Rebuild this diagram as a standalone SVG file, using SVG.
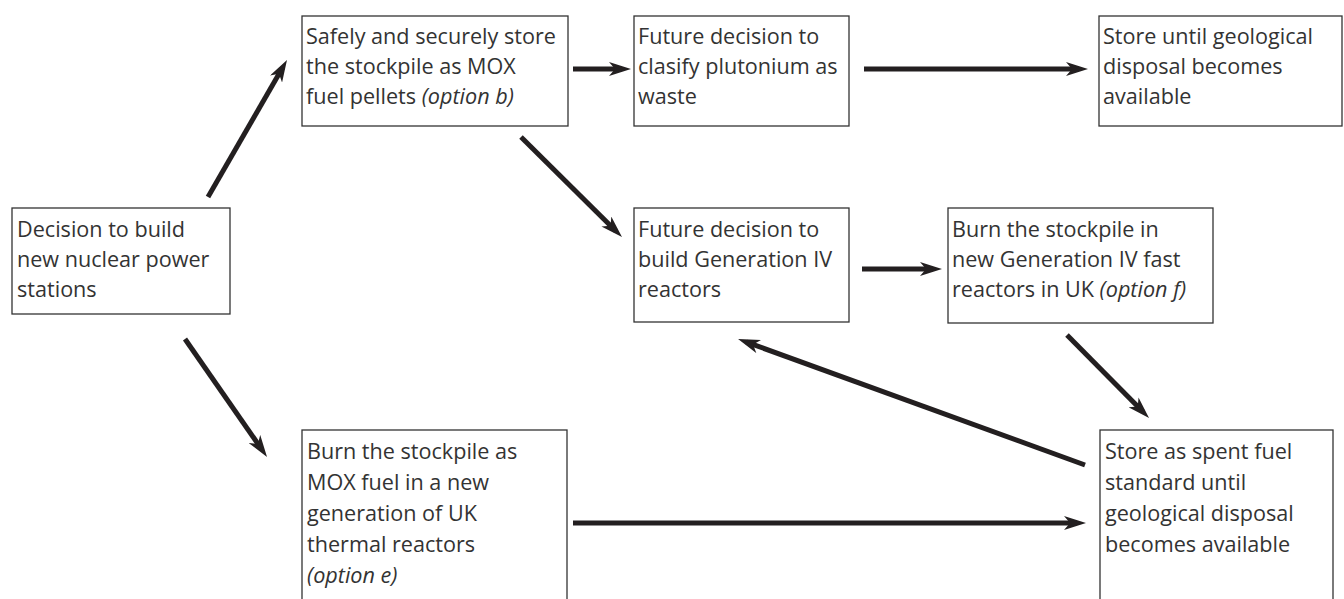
<svg xmlns="http://www.w3.org/2000/svg" width="1344" height="599" viewBox="0 0 1344 599">
<style>
.box{fill:#fff;stroke:#333;stroke-width:1.3}
.t{font-family:"Open Sans","Noto Sans","Liberation Sans",sans-serif;font-size:21.6px;fill:#333}
.i{font-style:italic}
.c{stroke:#231f20;stroke-width:5;fill:none;marker-end:url(#ah)}
</style>
<defs>
<marker id="ah" markerUnits="userSpaceOnUse" viewBox="0 -7 22 14" markerWidth="22" markerHeight="14" refX="13" refY="0" orient="auto">
<path d="M0,-7 L22,0 L0,7 L6,0 z" fill="#231f20"/>
</marker>
</defs>
<rect width="1344" height="599" fill="#fff"/>
<g id="connectors">
<line class="c" x1="208" y1="197" x2="282.5" y2="67.8"/>
<line class="c" x1="573" y1="69" x2="622" y2="69"/>
<line class="c" x1="864" y1="69" x2="1079" y2="69"/>
<line class="c" x1="521" y1="137" x2="615.6" y2="230.7"/>
<line class="c" x1="862" y1="269" x2="933" y2="269"/>
<line class="c" x1="1067" y1="335" x2="1142.7" y2="411.6"/>
<line class="c" x1="1085" y1="465" x2="746.5" y2="342.1"/>
<line class="c" x1="185" y1="339" x2="261.9" y2="449.6"/>
<line class="c" x1="573" y1="523" x2="1077" y2="523"/>
</g>
<g id="n1">
<rect class="box" x="12" y="208" width="218" height="106"/>
<text class="t"><tspan x="17" y="237">Decision to build</tspan><tspan x="17" y="267">new nuclear power</tspan><tspan x="17" y="297">stations</tspan></text>
</g>
<g id="n2">
<rect class="box" x="302" y="16" width="266" height="110"/>
<text class="t"><tspan x="306" y="44">Safely and securely store</tspan><tspan x="306" y="74">the stockpile as MOX</tspan><tspan x="306" y="104">fuel pellets <tspan class="i">(option b)</tspan></tspan></text>
</g>
<g id="n3">
<rect class="box" x="634" y="16" width="215" height="110"/>
<text class="t"><tspan x="638" y="44">Future decision to</tspan><tspan x="638" y="74">clasify plutonium as</tspan><tspan x="638" y="104">waste</tspan></text>
</g>
<g id="n4">
<rect class="box" x="1099" y="16" width="243" height="110"/>
<text class="t"><tspan x="1103" y="44">Store until geological</tspan><tspan x="1103" y="74">disposal becomes</tspan><tspan x="1103" y="104">available</tspan></text>
</g>
<g id="n5">
<rect class="box" x="634" y="208" width="215" height="114"/>
<text class="t"><tspan x="638" y="237">Future decision to</tspan><tspan x="638" y="267">build Generation IV</tspan><tspan x="638" y="297">reactors</tspan></text>
</g>
<g id="n6">
<rect class="box" x="948" y="208" width="265" height="115"/>
<text class="t"><tspan x="952" y="237">Burn the stockpile in</tspan><tspan x="952" y="267">new Generation IV fast</tspan><tspan x="952" y="297">reactors in UK <tspan class="i">(option f)</tspan></tspan></text>
</g>
<g id="n7">
<rect class="box" x="1100" y="430" width="233" height="190"/>
<text class="t"><tspan x="1105" y="459">Store as spent fuel</tspan><tspan x="1105" y="490">standard until</tspan><tspan x="1105" y="521">geological disposal</tspan><tspan x="1105" y="552">becomes available</tspan></text>
</g>
<g id="n8">
<rect class="box" x="302" y="430" width="265" height="190"/>
<text class="t"><tspan x="307" y="459">Burn the stockpile as</tspan><tspan x="307" y="490">MOX fuel in a new</tspan><tspan x="307" y="521">generation of UK</tspan><tspan x="307" y="552">thermal reactors</tspan><tspan class="i" x="307" y="583">(option e)</tspan></text>
</g>
</svg>
